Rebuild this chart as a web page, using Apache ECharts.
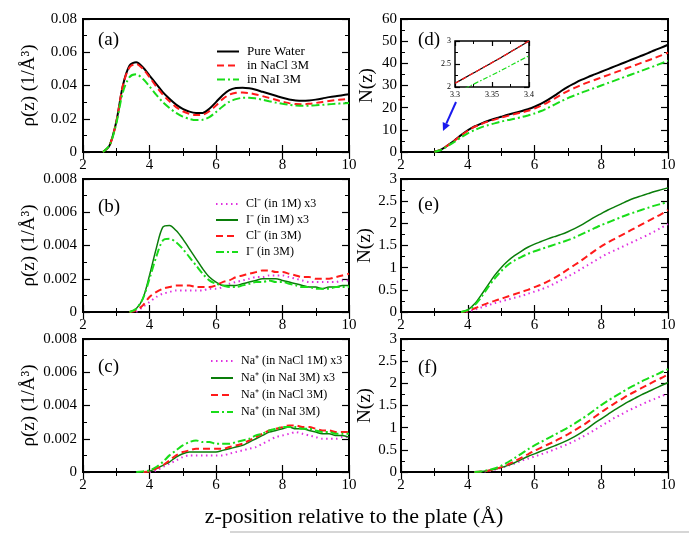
<!DOCTYPE html>
<html>
<head>
<meta charset="utf-8">
<script src="https://cdn.jsdelivr.net/npm/echarts@6/dist/echarts.min.js"></script>
<style>html,body{margin:0;padding:0;background:#fff}#main{width:689px;height:534px}</style>
</head>
<body>
<div id="main"></div>
<script>
// z positions (Å) shared by every curve
var zGrid = [2.0,2.2,2.4,2.6,2.8,3.0,3.2,3.4,3.6,3.8,4.0,4.2,4.4,4.6,4.8,5.0,5.2,5.4,5.6,5.8,6.0,
  6.2,6.4,6.6,6.8,7.0,7.2,7.4,7.6,7.8,8.0,8.2,8.4,8.6,8.8,9.0,9.2,9.4,9.6,9.8,10.0];

// (a) water density
var rhoWater = [null,null,null,0,0.004,0.018,0.040,0.052,0.054,0.051,0.046,0.041,0.036,0.032,0.0285,0.026,0.0243,0.0235,0.0235,0.026,0.030,
  0.0342,0.0372,0.0385,0.0387,0.0383,0.0374,0.0362,0.035,0.0338,0.0326,0.0316,0.031,0.0308,0.031,0.0315,0.0322,0.033,0.0336,0.0341,0.0347];
var rhoWaterNaCl = [null,null,null,0,0.004,0.018,0.040,0.051,0.053,0.050,0.045,0.0395,0.0345,0.0305,0.027,0.0245,0.023,0.0222,0.0224,0.0245,0.028,
  0.0318,0.0345,0.0356,0.0358,0.0354,0.0346,0.0336,0.0325,0.0314,0.0303,0.0294,0.0288,0.0287,0.029,0.0295,0.0301,0.0307,0.0312,0.0316,0.032];
var rhoWaterNaI = [null,null,null,0,0.004,0.017,0.036,0.045,0.0467,0.044,0.0395,0.0345,0.030,0.0265,0.0235,0.0213,0.0199,0.0192,0.0194,0.021,0.024,
  0.0274,0.0302,0.0318,0.0326,0.0327,0.0322,0.0314,0.0305,0.0297,0.029,0.0284,0.028,0.0278,0.0279,0.0281,0.0284,0.0287,0.029,0.0292,0.0294];

// (b) anion density
var rhoCl1M = [null,null,null,null,null,null,null,null,0,0.0003,0.0006,0.0009,0.0011,0.0012,0.0013,0.0013,0.0013,0.0013,0.0013,0.0014,0.0014,
  0.0015,0.0017,0.0018,0.0019,0.0020,0.0021,0.0021,0.0022,0.0022,0.0022,0.0021,0.0020,0.0019,0.0018,0.0018,0.0018,0.0018,0.0018,0.0019,0.0019];
var rhoI1M = [null,null,null,null,null,null,null,0,0.0002,0.0008,0.0022,0.0038,0.0051,0.0052,0.0049,0.0044,0.0038,0.0032,0.0026,0.0021,0.0018,
  0.0016,0.0016,0.0016,0.0017,0.0018,0.0019,0.0020,0.0020,0.0020,0.0019,0.0018,0.0017,0.0016,0.0015,0.0015,0.0014,0.0015,0.0015,0.0016,0.0016];
var rhoCl3M = [null,null,null,null,null,null,null,0,0.0001,0.0004,0.0009,0.0012,0.0014,0.0015,0.0016,0.0016,0.0016,0.0015,0.0015,0.0015,0.0016,
  0.0018,0.0019,0.0021,0.0022,0.0023,0.0024,0.0025,0.0025,0.0024,0.0024,0.0023,0.0022,0.0021,0.0021,0.0020,0.0020,0.0020,0.0021,0.0022,0.0023];
var rhoI3M = [null,null,null,null,null,null,null,0,0.0002,0.0008,0.0020,0.0033,0.0043,0.0044,0.0042,0.0038,0.0033,0.0028,0.0023,0.0019,0.0017,
  0.0016,0.0015,0.0015,0.0016,0.0017,0.0018,0.0018,0.0019,0.0018,0.0018,0.0017,0.0016,0.0015,0.0015,0.0014,0.0014,0.0014,0.0015,0.0015,0.0015];

// (c) cation density
var rhoNaCl1M = [null,null,null,null,null,null,null,null,null,null,0,0.0001,0.0003,0.0005,0.0007,0.0009,0.0010,0.0010,0.0010,0.0010,0.0010,
  0.0010,0.0011,0.0012,0.0013,0.0014,0.0015,0.0017,0.0019,0.0021,0.0022,0.0023,0.0024,0.0023,0.0022,0.0021,0.0020,0.0020,0.0020,0.0021,0.0021];
var rhoNaI3Mx3 = [null,null,null,null,null,null,null,null,null,0,0.00005,0.0002,0.0004,0.0006,0.0009,0.0011,0.0012,0.0012,0.0012,0.0012,0.0012,
  0.0013,0.0014,0.0015,0.0016,0.0018,0.0020,0.0022,0.0024,0.0025,0.0026,0.0027,0.0026,0.0026,0.0025,0.0024,0.0023,0.0023,0.0022,0.0022,0.0021];
var rhoNaCl3M = [null,null,null,null,null,null,null,null,null,0,0.00005,0.0002,0.0004,0.0007,0.0010,0.0012,0.0013,0.0014,0.0014,0.0014,0.0014,
  0.0014,0.0015,0.0016,0.0017,0.0019,0.0021,0.0023,0.0025,0.0026,0.0027,0.0028,0.0028,0.0027,0.0027,0.0026,0.0025,0.0025,0.0024,0.0024,0.0024];
var rhoNaI3M = [null,null,null,null,null,null,null,null,0,0.00003,0.0001,0.0003,0.0006,0.0010,0.0013,0.0016,0.0018,0.0019,0.0018,0.0018,0.0017,
  0.0017,0.0017,0.0018,0.0019,0.0020,0.0022,0.0023,0.0025,0.0026,0.0027,0.0027,0.0027,0.0026,0.0026,0.0025,0.0024,0.0024,0.0023,0.0023,0.0023];

// (d) water running number
var nWater = [null,null,null,null,null,0.1,1.1,3.0,5.2,7.6,9.8,11.5,12.8,14.0,15.0,15.9,16.8,17.6,18.4,19.3,20.4,
  21.8,23.5,25.4,27.5,29.4,31.0,32.5,33.8,35.0,36.2,37.4,38.6,39.8,41.0,42.2,43.4,44.6,45.9,47.1,48.4];
var nWaterNaCl = [null,null,null,null,null,0.1,1.1,3.0,5.1,7.4,9.6,11.3,12.6,13.7,14.6,15.5,16.3,17.1,17.8,18.6,19.6,
  20.9,22.4,24.1,25.9,27.5,28.9,30.2,31.4,32.5,33.6,34.7,35.8,36.9,38.0,39.1,40.2,41.3,42.4,43.6,44.8];
var nWaterNaI = [null,null,null,null,null,0.1,0.9,2.7,4.6,6.6,8.4,9.9,11.1,12.1,12.9,13.7,14.4,15.0,15.7,16.5,17.4,
  18.5,19.9,21.4,22.9,24.3,25.5,26.7,27.8,28.9,30.0,31.1,32.2,33.3,34.4,35.5,36.6,37.7,38.8,40.0,41.2];

// (d) inset
var zInset = [3.30,3.32,3.34,3.36,3.38,3.40];
var nInsetWater = [2.08,2.26,2.44,2.62,2.81,3.0];
var nInsetNaCl = [2.08,2.26,2.44,2.62,2.81,3.0];
var nInsetNaI = [1.86,2.02,2.18,2.34,2.51,2.68];

// (e) anion running number
var nCl1M = [null,null,null,null,null,null,null,null,null,0,0.01,0.05,0.1,0.15,0.2,0.24,0.28,0.32,0.36,0.41,0.46,
  0.51,0.57,0.64,0.72,0.80,0.88,0.97,1.06,1.15,1.24,1.32,1.39,1.46,1.53,1.60,1.67,1.74,1.82,1.90,1.98];
var nI1M = [null,null,null,null,null,null,null,null,null,0,0.05,0.18,0.38,0.6,0.82,1.0,1.15,1.27,1.37,1.46,1.53,
  1.59,1.65,1.70,1.75,1.81,1.88,1.96,2.05,2.14,2.22,2.30,2.37,2.44,2.51,2.57,2.62,2.67,2.72,2.76,2.80];
var nCl3M = [null,null,null,null,null,null,null,null,null,0,0.02,0.08,0.14,0.2,0.25,0.3,0.35,0.4,0.45,0.5,0.56,
  0.62,0.69,0.77,0.86,0.96,1.06,1.16,1.27,1.38,1.48,1.57,1.65,1.73,1.81,1.89,1.97,2.05,2.13,2.21,2.30];
var nI3M = [null,null,null,null,null,null,null,null,null,0,0.04,0.15,0.33,0.55,0.75,0.92,1.06,1.16,1.24,1.31,1.37,
  1.42,1.47,1.52,1.57,1.62,1.68,1.75,1.82,1.89,1.96,2.02,2.08,2.14,2.20,2.25,2.30,2.35,2.40,2.44,2.48];

// (f) cation running number
var nNaCl1M = [null,null,null,null,null,null,null,null,null,null,null,0,0.005,0.02,0.05,0.09,0.14,0.19,0.25,0.30,0.35,
  0.40,0.45,0.51,0.57,0.63,0.70,0.78,0.86,0.95,1.04,1.13,1.22,1.30,1.38,1.45,1.52,1.59,1.65,1.71,1.77];
var nNaI3Mx3 = [null,null,null,null,null,null,null,null,null,null,null,0,0.01,0.03,0.06,0.10,0.15,0.21,0.28,0.35,0.41,
  0.47,0.53,0.59,0.65,0.72,0.80,0.89,0.99,1.10,1.20,1.30,1.40,1.49,1.58,1.66,1.74,1.81,1.88,1.95,2.02];
var nNaCl3M = [null,null,null,null,null,null,null,null,null,null,null,0,0.01,0.03,0.06,0.11,0.17,0.24,0.32,0.40,0.48,
  0.55,0.62,0.69,0.77,0.85,0.94,1.03,1.13,1.24,1.35,1.45,1.55,1.64,1.73,1.81,1.89,1.97,2.05,2.12,2.20];
var nNaI3M = [null,null,null,null,null,null,null,null,null,null,null,0,0.01,0.04,0.08,0.14,0.22,0.31,0.41,0.51,0.60,
  0.68,0.76,0.84,0.92,1.00,1.09,1.19,1.29,1.40,1.51,1.61,1.70,1.79,1.88,1.96,2.04,2.11,2.18,2.25,2.32];

var legendA = ['Pure Water', 'in NaCl 3M', 'in NaI 3M'];
var legendB = ['Cl\u207B (in 1M) x3', 'I\u207B (in 1M) x3', 'Cl\u207B (in 3M)', 'I\u207B (in 3M)'];
var legendC = ['Na\u207A (in NaCl 1M) x3', 'Na\u207A (in NaI 3M) x3', 'Na\u207A (in NaCl 3M)', 'Na\u207A (in NaI 3M)'];

var FONT = 'Liberation Serif';
var BLACK = '#000000', RED = '#ff1a1a', GREEN = '#19dd19', DKGREEN = '#0a7d0a', MAGENTA = '#e030e0';
var DASH = [7, 4], DASHDOT = [8, 3, 2, 3], DOT = [1.5, 3.5];

var panels = [
  { left: 83, top: 19, ymax: 0.08, yint: 0.02, name: 'ρ(z) (1/Å³)', gap: 44 },
  { left: 83, top: 179, ymax: 0.008, yint: 0.002, name: 'ρ(z) (1/Å³)', gap: 44 },
  { left: 83, top: 339, ymax: 0.008, yint: 0.002, name: 'ρ(z) (1/Å³)', gap: 44 },
  { left: 401, top: 19, ymax: 60, yint: 10, name: 'N(z)', gap: 24 },
  { left: 401, top: 179, ymax: 3, yint: 0.5, name: 'N(z)', gap: 24 },
  { left: 401, top: 339, ymax: 3, yint: 0.5, name: 'N(z)', gap: 24 }
];

var grids = [], xAxes = [], yAxes = [];
function tickStyle(len, minorLen) {
  return {
    axisLine: { show: false },
    axisTick: { show: true, inside: true, length: len, lineStyle: { color: '#000', width: 1.2 } },
    minorTick: { show: true, splitNumber: 2, length: minorLen, lineStyle: { color: '#000', width: 1 } },
    splitLine: { show: false }
  };
}
panels.forEach(function (p, i) {
  grids.push({ left: p.left, top: p.top, width: p.left < 200 ? 266 : 267, height: 133,
    show: true, borderColor: '#000', borderWidth: 2, backgroundColor: 'transparent' });
  xAxes.push(Object.assign({ type: 'value', gridIndex: i, min: 2, max: 10, interval: 2, position: 'bottom',
    axisLabel: { fontFamily: FONT, fontSize: 15, color: '#000', margin: 6 } }, tickStyle(7, 4)));
  xAxes.push(Object.assign({ type: 'value', gridIndex: i, min: 2, max: 10, interval: 2, position: 'top',
    axisLabel: { show: false } }, tickStyle(7, 4)));
  yAxes.push(Object.assign({ type: 'value', gridIndex: i, min: 0, max: p.ymax, interval: p.yint, position: 'left',
    name: p.name, nameLocation: 'middle', nameGap: p.gap,
    nameTextStyle: { fontFamily: FONT, fontSize: 19, color: '#000' },
    axisLabel: { fontFamily: FONT, fontSize: 15, color: '#000', margin: p.left < 200 ? 6 : 4 } }, tickStyle(7, 4)));
  yAxes.push(Object.assign({ type: 'value', gridIndex: i, min: 0, max: p.ymax, interval: p.yint, position: 'right',
    axisLabel: { show: false } }, tickStyle(7, 4)));
});
// inset of (d)
grids.push({ left: 455, top: 41, width: 74, height: 46, show: true, borderColor: '#000', borderWidth: 1.5, backgroundColor: '#fff' });
xAxes.push(Object.assign({ type: 'value', gridIndex: 6, min: 3.3, max: 3.4, interval: 0.05, position: 'bottom',
  axisLabel: { fontFamily: FONT, fontSize: 8, color: '#000', margin: 4 } }, tickStyle(5, 3)));
xAxes.push(Object.assign({ type: 'value', gridIndex: 6, min: 3.3, max: 3.4, interval: 0.05, position: 'top',
  axisLabel: { show: false } }, tickStyle(5, 3)));
yAxes.push(Object.assign({ type: 'value', gridIndex: 6, min: 2, max: 3, interval: 0.5, position: 'left',
  axisLabel: { fontFamily: FONT, fontSize: 8, color: '#000', margin: 4 } }, tickStyle(5, 3)));
yAxes.push(Object.assign({ type: 'value', gridIndex: 6, min: 2, max: 3, interval: 0.5, position: 'right',
  axisLabel: { show: false } }, tickStyle(5, 3)));

function pts(xs, vals) {
  var out = [];
  vals.forEach(function (v, i) { if (v !== null) out.push([xs[i], v]); });
  return out;
}
function line(name, panel, xs, vals, color, dash, width) {
  return {
    name: name, type: 'line', xAxisIndex: panel * 2, yAxisIndex: panel * 2,
    data: pts(xs, vals), symbol: 'none', smooth: 0.3,
    lineStyle: { color: color, width: width, type: dash || 'solid' },
    itemStyle: { color: color }
  };
}

var series = [
  line(legendA[0], 0, zGrid, rhoWater, BLACK, null, 2),
  line(legendA[1], 0, zGrid, rhoWaterNaCl, RED, DASH, 2),
  line(legendA[2], 0, zGrid, rhoWaterNaI, GREEN, DASHDOT, 2),

  line(legendB[0], 1, zGrid, rhoCl1M, MAGENTA, DOT, 2),
  line(legendB[1], 1, zGrid, rhoI1M, DKGREEN, null, 1.5),
  line(legendB[2], 1, zGrid, rhoCl3M, RED, DASH, 2),
  line(legendB[3], 1, zGrid, rhoI3M, GREEN, DASHDOT, 2),

  line(legendC[0], 2, zGrid, rhoNaCl1M, MAGENTA, DOT, 2),
  line(legendC[1], 2, zGrid, rhoNaI3Mx3, DKGREEN, null, 1.5),
  line(legendC[2], 2, zGrid, rhoNaCl3M, RED, DASH, 2),
  line(legendC[3], 2, zGrid, rhoNaI3M, GREEN, DASHDOT, 2),

  line(legendA[0], 3, zGrid, nWater, BLACK, null, 2),
  line(legendA[1], 3, zGrid, nWaterNaCl, RED, DASH, 2),
  line(legendA[2], 3, zGrid, nWaterNaI, GREEN, DASHDOT, 2),

  line(legendB[0], 4, zGrid, nCl1M, MAGENTA, DOT, 2),
  line(legendB[1], 4, zGrid, nI1M, DKGREEN, null, 1.5),
  line(legendB[2], 4, zGrid, nCl3M, RED, DASH, 2),
  line(legendB[3], 4, zGrid, nI3M, GREEN, DASHDOT, 2),

  line(legendC[0], 5, zGrid, nNaCl1M, MAGENTA, DOT, 2),
  line(legendC[1], 5, zGrid, nNaI3Mx3, DKGREEN, null, 1.5),
  line(legendC[2], 5, zGrid, nNaCl3M, RED, DASH, 2),
  line(legendC[3], 5, zGrid, nNaI3M, GREEN, DASHDOT, 2),

  line(legendA[0], 6, zInset, nInsetWater, BLACK, null, 1.2),
  line(legendA[1], 6, zInset, nInsetNaCl, RED, [5, 3], 1.2),
  line(legendA[2], 6, zInset, nInsetNaI, GREEN, [5, 2, 1.5, 2], 1.2)
];

function legend(names, left, top, fontSize, gap, itemWidth) {
  return {
    data: names, orient: 'vertical', left: left, top: top, selectedMode: false,
    itemWidth: itemWidth, itemHeight: 10, itemGap: gap,
    itemStyle: { opacity: 0 },
    textStyle: { fontFamily: FONT, fontSize: fontSize, color: '#000', padding: [0, 0, 0, 3] }
  };
}

function label(text, x, y) {
  return { type: 'text', z: 100, style: { text: text, x: x, y: y, fontFamily: FONT, fontSize: 19, fill: '#000', verticalAlign: 'middle' } };
}

var chart = echarts.init(document.getElementById('main'));
chart.setOption({
  animation: false,
  backgroundColor: '#fff',
  grid: grids,
  xAxis: xAxes,
  yAxis: yAxes,
  legend: [
    legend(legendA, 211, 40, 13, 1, 22),
    legend(legendB, 210, 193, 12, 4, 22),
    legend(legendC, 205, 350, 12, 5, 22)
  ],
  series: series,
  graphic: [
    label('(a)', 98, 40), label('(b)', 98, 207), label('(c)', 98, 367),
    label('(d)', 418, 40), label('(e)', 418, 205), label('(f)', 418, 368),
    { type: 'text', z: 100, style: { text: 'z-position relative to the plate (Å)', x: 354, y: 517,
      fontFamily: FONT, fontSize: 22, fill: '#000', align: 'center', verticalAlign: 'middle' } },
    { type: 'line', z: 100, shape: { x1: 456, y1: 102, x2: 446.3, y2: 123.7 }, style: { stroke: '#1a1aee', lineWidth: 2 } },
    { type: 'polygon', z: 100, shape: { points: [[443, 131], [449.9, 125.3], [442.7, 122.1]] }, style: { fill: '#1a1aee' } },
    { type: 'line', z: 100, shape: { x1: 230, y1: 532, x2: 689, y2: 532 }, style: { stroke: '#c8c8c8', lineWidth: 1.5 } }
  ]
});
</script>
</body>
</html>
